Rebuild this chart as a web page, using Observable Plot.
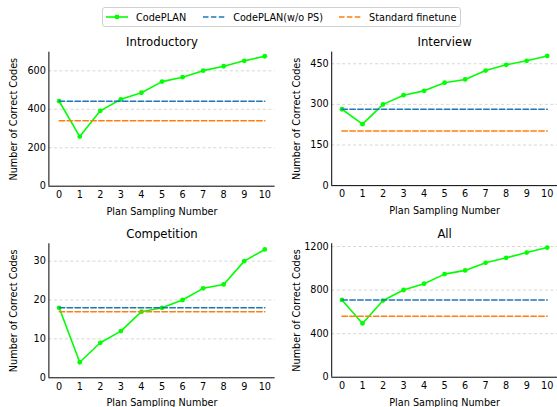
<!DOCTYPE html>
<html><head><meta charset="utf-8">
<script src="https://cdn.jsdelivr.net/npm/d3@7"></script>
<script src="https://cdn.jsdelivr.net/npm/@observablehq/plot@0.6"></script>
<style>
html,body{margin:0;padding:0;background:#fff;overflow:hidden;}
#root{position:relative;width:557px;height:407px;overflow:hidden;font-family:"DejaVu Sans",sans-serif;background:#fff;}
.panel{position:absolute;}
#legend{position:absolute;left:102px;top:7px;width:357px;height:18px;border:1px solid #d0d0d0;border-radius:3px;display:flex;align-items:center;font-size:9.7px;color:#000;box-sizing:content-box;white-space:nowrap;}
#legend .item{display:flex;align-items:center;flex-shrink:0;}
#legend svg{display:block;}
</style>
</head><body>
<div id="root"><div id="legend"></div></div>
<script>
const samplingNumbers = [0, 1, 2, 3, 4, 5, 6, 7, 8, 9, 10];
const seriesNames = ["CodePLAN", "CodePLAN(w/o PS)", "Standard finetune"];
const panelTitles = ["Introductory", "Interview", "Competition", "All"];

const introductory = [442, 258, 392, 452, 486, 544, 567, 601, 624, 652, 676];
const interview    = [282, 227, 300, 334, 350, 380, 392, 425, 446, 461, 479];
const competition  = [18, 4, 9, 12, 17, 18, 20, 23, 24, 30, 33];
const allLevels    = [710, 494, 704, 801, 859, 947, 981, 1051, 1097, 1145, 1191];

const withoutPS = [442, 282, 18, 710];      // CodePLAN(w/o PS) per panel
const standardFT = [340, 202, 17, 560];     // Standard finetune per panel

const yTicks = [[0, 200, 400, 600], [0, 150, 300, 450], [0, 10, 20, 30], [0, 400, 800, 1200]];
const yMax = [697, 493, 34.45, 1226];

const colors = {code: "#00ff00", wops: "#1f77b4", std: "#ff7f0e"};
const dash = "5.5,2.4";

const codeplan = [introductory, interview, competition, allLevels];

const layout = [
  {left: 0,   top: 30,  width: 280, height: 190, mL: 48.4, mR: 5.4, mT: 21.7, mB: 34.3},
  {left: 280, top: 30,  width: 278, height: 190, mL: 51.4, mR: 0,   mT: 21.7, mB: 34.3},
  {left: 0,   top: 222, width: 280, height: 185, mL: 48.4, mR: 5.4, mT: 21.3, mB: 29.7},
  {left: 280, top: 222, width: 278, height: 185, mL: 51.4, mR: 0,   mT: 21.3, mB: 29.7}
];

const root = document.getElementById("root");

panelTitles.forEach((title, i) => {
  const L = layout[i];
  const main = samplingNumbers.map((x, j) => ({x, y: codeplan[i][j]}));
  const wops = samplingNumbers.map(x => ({x, y: withoutPS[i]}));
  const std = samplingNumbers.map(x => ({x, y: standardFT[i]}));
  const grid = yTicks[i].filter(t => t !== 0);
  const chart = Plot.plot({
    width: L.width, height: L.height,
    marginLeft: L.mL, marginRight: L.mR, marginTop: L.mT, marginBottom: L.mB,
    style: {fontFamily: "DejaVu Sans", fontSize: "9.7px", color: "#000", background: "transparent", overflow: "visible"},
    x: {domain: [-0.5, 10.5], ticks: samplingNumbers, tickSize: 0, tickPadding: 5, tickFormat: d => String(d), label: null},
    y: {domain: [0, yMax[i]], ticks: yTicks[i], tickSize: 0, tickPadding: 3, tickFormat: d => String(d), label: null},
    marks: [
      Plot.ruleY(grid, {stroke: "#cccccc", strokeWidth: 0.8, strokeDasharray: "3,2.5"}),
      Plot.ruleX([-0.5], {stroke: "#000", strokeWidth: 1}),
      Plot.ruleY([0], {stroke: "#000", strokeWidth: 1}),
      Plot.line(main, {x: "x", y: "y", stroke: colors.code, strokeWidth: 1.6}),
      Plot.dot(main, {x: "x", y: "y", r: 2.4, fill: colors.code, stroke: "none"}),
      Plot.line(wops, {x: "x", y: "y", stroke: colors.wops, strokeWidth: 1.5, strokeDasharray: dash}),
      Plot.line(std, {x: "x", y: "y", stroke: colors.std, strokeWidth: 1.5, strokeDasharray: dash}),
      Plot.text([title], {frameAnchor: "top", lineAnchor: "middle", textAnchor: "middle", dy: -9.5, fontSize: 11.7, fill: "#000"}),
      Plot.text(["Plan Sampling Number"], {frameAnchor: "bottom", lineAnchor: "middle", textAnchor: "middle", dy: 25.5, fontSize: 9.7, fill: "#000"}),
      Plot.text(["Number of Correct Codes"], {frameAnchor: "left", lineAnchor: "middle", textAnchor: "middle", dx: -35, rotate: -90, fontSize: 9.7, fill: "#000"})
    ]
  });
  const div = document.createElement("div");
  div.className = "panel";
  div.style.left = L.left + "px";
  div.style.top = L.top + "px";
  div.appendChild(chart);
  root.appendChild(div);
});

// Legend
const legend = document.getElementById("legend");
const legendItems = [
  {name: seriesNames[0], color: colors.code, dashed: false, marker: true, gapBefore: 3},
  {name: seriesNames[1], color: colors.wops, dashed: true, marker: false, gapBefore: 17},
  {name: seriesNames[2], color: colors.std, dashed: true, marker: false, gapBefore: 16}
];
legendItems.forEach(it => {
  const item = document.createElement("div");
  item.className = "item";
  item.style.marginLeft = it.gapBefore + "px";
  const ns = "http://www.w3.org/2000/svg";
  const sw = document.createElementNS(ns, "svg");
  sw.setAttribute("width", 22); sw.setAttribute("height", 10);
  const ln = document.createElementNS(ns, "line");
  ln.setAttribute("x1", 0); ln.setAttribute("x2", 22);
  ln.setAttribute("y1", 5); ln.setAttribute("y2", 5);
  ln.setAttribute("stroke", it.color);
  ln.setAttribute("stroke-width", it.dashed ? 1.5 : 1.6);
  if (it.dashed) ln.setAttribute("stroke-dasharray", "5.5,2.4");
  sw.appendChild(ln);
  if (it.marker) {
    const c = document.createElementNS(ns, "circle");
    c.setAttribute("cx", 11); c.setAttribute("cy", 5); c.setAttribute("r", 2.4);
    c.setAttribute("fill", it.color);
    sw.appendChild(c);
  }
  item.appendChild(sw);
  const t = document.createElement("span");
  t.textContent = it.name;
  t.style.marginLeft = "8px";
  item.appendChild(t);
  legend.appendChild(item);
});
</script>
</body></html>
